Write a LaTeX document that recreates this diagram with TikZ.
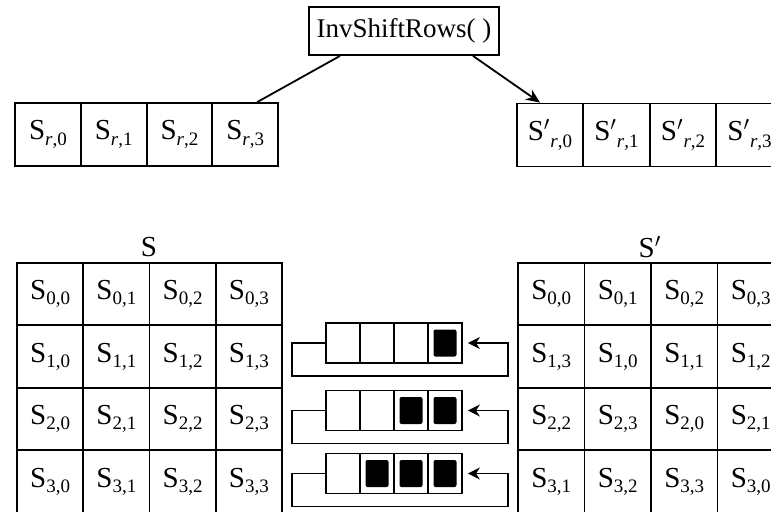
\documentclass[tikz,border=0pt]{standalone}
\usepackage{fontspec}
\setmainfont{Liberation Serif}
\usetikzlibrary{arrows.meta}
\newcommand\Ss[1]{S\raisebox{-2.5pt}{\fontsize{9.5}{11}\selectfont #1}}
\newcommand\Sr[1]{S\raisebox{-3pt}{\fontsize{9.5}{11}\selectfont\textit{r},#1}}
\newcommand\Spr[1]{S$'$\raisebox{-3.5pt}{\fontsize{9.5}{11}\selectfont\textit{r},#1}}
\begin{document}
\begin{tikzpicture}[x=0.5pt,y=-0.5pt,font=\fontsize{14.5}{17}\selectfont,
  cell/.style={draw,line width=0.9pt,inner sep=0pt,minimum width=33.2pt,minimum height=31.25pt},
  tcell/.style={draw,line width=0.9pt,inner sep=0pt,minimum width=33pt,minimum height=31.5pt},
  mcell/.style={draw,line width=0.9pt,inner sep=0pt,minimum width=17pt,minimum height=20pt},
  fillbox/.style={fill=black,inner sep=0pt,minimum width=11.5pt,minimum height=13.5pt,rounded corners=1pt},
  conn/.style={line width=0.9pt},
  tip/.style={-{Stealth[length=6pt,width=6pt]}}]
\useasboundingbox (0,0) rectangle (771,511);
\clip (0,0) rectangle (771,511);
% title
\node[draw,line width=0.9pt,minimum width=95pt,minimum height=24pt,inner sep=0pt,font=\fontsize{13.5}{16}\selectfont] (inv) at (404,31) {InvShiftRows( )};
% top rows
\foreach \c in {0,...,3}{
  \node[tcell] (tl-\c) at ({47.9+65.75*\c},134.5) {\Sr{\c}};
  \node[tcell] (tr-\c) at ({550+66.5*\c},135) {\Spr{\c}};
}
\draw[conn] ([xshift=-32pt]inv.south) -- ([xshift=6pt]tl-3.north);
\draw[conn,-{Stealth[length=7pt,width=6pt]}] ([xshift=34.5pt]inv.south) -- ([xshift=-5pt]tr-0.north);
% labels
\node (labS) at (149,247) {S};
\node (labSp) at (650,247) {S$'$};
% matrices
\foreach \r in {0,...,3}{\foreach \c in {0,...,3}{
  \node[cell] (L-\r-\c) at ({50.1+66.25*\c},{294+62.5*\r}) {\Ss{\r,\c}};
  \pgfmathtruncatemacro\k{mod(\c-\r+4,4)}
  \node[cell] (R-\r-\c) at ({551.2+66.5*\c},{294+62.5*\r}) {\Ss{\r,\k}};
}}
% shift registers
\foreach \r/\y in {1/343,2/410.5,3/473.5}{
  \foreach \c in {0,...,3}{\node[mcell] (m-\r-\c) at ({343+34*\c},\y) {};}
  \pgfmathtruncatemacro\s{4-\r}
  \foreach \c in {\s,...,3}{\node[fillbox] (f-\r-\c) at (m-\r-\c) {};}
  \draw[conn,tip,shorten >=2.5pt] (m-\r-0.west) -- ++(-33,0) -- ++(0,33) -- ++(216,0) |- (m-\r-3.east);
}
\end{tikzpicture}
\end{document}
